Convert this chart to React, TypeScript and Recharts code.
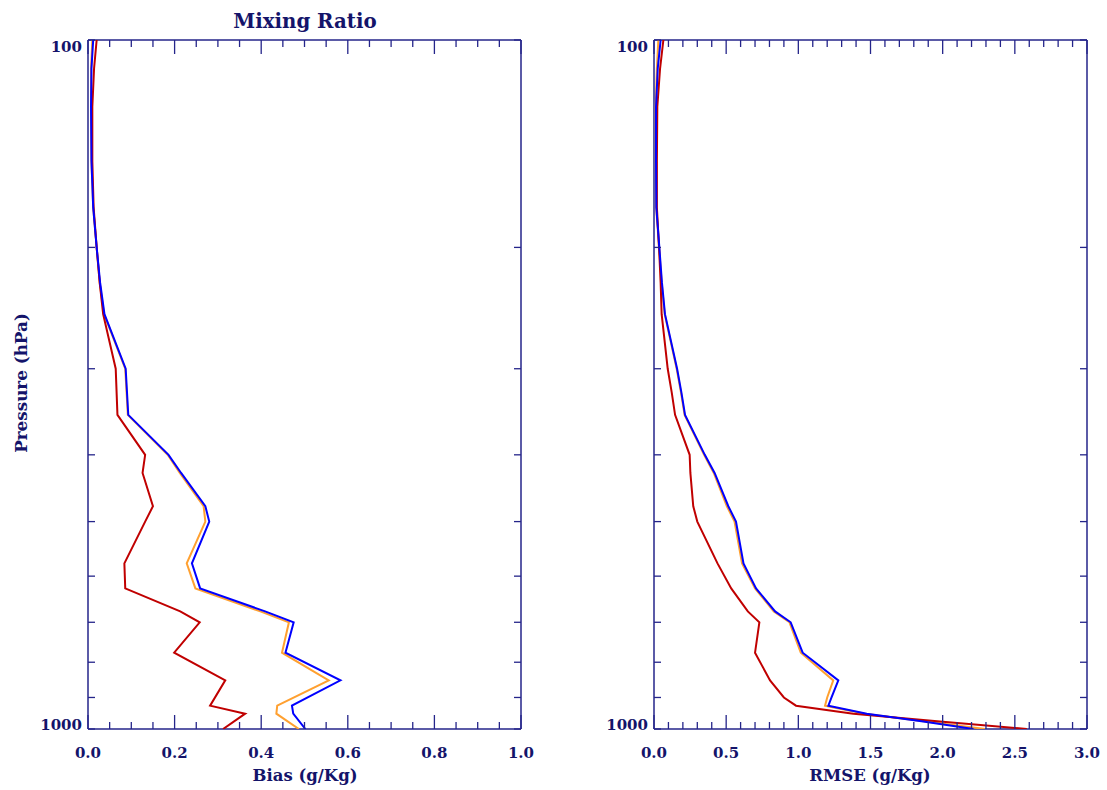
import React from "react";
import { ScatterChart, Scatter, XAxis, YAxis } from "recharts";

// pressure levels (hPa) and profile values
const biasLevels = [100, 110, 125, 150, 175, 200, 225, 250, 300, 350, 400, 425, 475, 500, 575, 625, 675, 700, 775, 850, 925, 950, 1000];
const biasBlue = [0.012, 0.008, 0.007, 0.008, 0.012, 0.02, 0.028, 0.038, 0.087, 0.093, 0.186, 0.215, 0.271, 0.28, 0.24, 0.259, 0.409, 0.475, 0.456, 0.583, 0.471, 0.474, 0.502];
const biasOrange = [0.01, 0.007, 0.007, 0.008, 0.012, 0.02, 0.027, 0.037, 0.086, 0.092, 0.184, 0.212, 0.267, 0.271, 0.228, 0.248, 0.398, 0.464, 0.448, 0.556, 0.437, 0.435, 0.487];
const biasRed = [0.02, 0.014, 0.01, 0.01, 0.013, 0.02, 0.027, 0.035, 0.064, 0.068, 0.132, 0.126, 0.15, 0.132, 0.084, 0.086, 0.213, 0.258, 0.199, 0.317, 0.282, 0.363, 0.312];

const rmseLevels = [100, 110, 125, 150, 175, 200, 225, 250, 300, 325, 350, 400, 425, 475, 500, 575, 625, 675, 700, 775, 850, 900, 925, 950, 975, 1000];
const rmseBlue = [0.046, 0.026, 0.014, 0.014, 0.016, 0.037, 0.055, 0.076, 0.16, 0.19, 0.215, 0.352, 0.42, 0.515, 0.568, 0.62, 0.707, 0.839, 0.947, 1.03, 1.277, 1.23, 1.208, 1.474, 1.866, 2.213];
const rmseOrange = [0.03, 0.02, 0.012, 0.013, 0.015, 0.035, 0.053, 0.074, 0.157, 0.187, 0.212, 0.347, 0.414, 0.505, 0.558, 0.61, 0.7, 0.83, 0.938, 1.017, 1.242, 1.2, 1.185, 1.46, 1.88, 2.294];
const rmseRed = [0.065, 0.042, 0.023, 0.02, 0.02, 0.035, 0.046, 0.053, 0.095, 0.123, 0.146, 0.247, 0.252, 0.272, 0.3, 0.44, 0.535, 0.65, 0.73, 0.7, 0.804, 0.9, 0.984, 1.381, 1.982, 2.583];

const pressureTicks = [100, 200, 300, 400, 500, 600, 700, 800, 900, 1000];
const pressureLabels = [100, 1000];

const AXIS = "#25258a";
const TEXT = "#14146a";
const FONT = "'DejaVu Serif', serif";
const BLUE = "#0000ff";
const ORANGE = "#ffa030";
const RED = "#c00000";

const makeTicks = (max: number, step: number) => {
  const out: number[] = [];
  const n = Math.round(max / step);
  for (let i = 0; i <= n; i++) out.push(Math.round(i * step * 1000) / 1000);
  return out;
};

const isMajor = (v: number, step: number) => Math.abs(v / step - Math.round(v / step)) < 1e-6;

function XTick(props: any) {
  const { x, y, payload, side, majorStep } = props;
  const v = payload.value as number;
  const major = isMajor(v, majorStep);
  const len = major ? 14 : 7;
  const dir = side === "bottom" ? -1 : 1;
  return (
    <g>
      <line x1={x} x2={x} y1={y} y2={y + dir * len} stroke={AXIS} strokeWidth={1.3} />
      {side === "bottom" && major && (
        <text x={x} y={y + 29} textAnchor="middle" fill={TEXT} fontFamily={FONT} fontWeight="bold" fontSize={15}>
          {v.toFixed(1)}
        </text>
      )}
    </g>
  );
}

function YTick(props: any) {
  const { x, y, payload, side } = props;
  const v = payload.value as number;
  const dir = side === "left" ? 1 : -1;
  return (
    <g>
      <line x1={x} x2={x + dir * 7} y1={y} y2={y} stroke={AXIS} strokeWidth={1.3} />
      {side === "left" && pressureLabels.includes(v) && (
        <text x={x - 6} y={y + (v === 100 ? 12 : 1)} textAnchor="end" fill={TEXT} fontFamily={FONT} fontWeight="bold" fontSize={15}>
          {v}
        </text>
      )}
    </g>
  );
}

type PanelProps = {
  levels: number[];
  blue: number[];
  orange: number[];
  red: number[];
  xMax: number;
  minorStep: number;
  majorStep: number;
  width: number;
  plotLeft: number;
  plotRight: number;
};

function Panel({ levels, blue, orange, red, xMax, minorStep, majorStep, width, plotLeft, plotRight }: PanelProps) {
  const xTicks = makeTicks(xMax, minorStep);
  const series = [
    { name: "orange", color: ORANGE, values: orange },
    { name: "red", color: RED, values: red },
    { name: "blue", color: BLUE, values: blue },
  ];
  // plot box: top 40, bottom 729
  return (
    <ScatterChart
      width={width}
      height={790}
      margin={{ top: 30, right: width - plotRight - 10, bottom: 31, left: plotLeft - 80 }}
    >
      <XAxis
        xAxisId="b"
        type="number"
        dataKey="v"
        domain={[0, xMax]}
        allowDataOverflow
        ticks={xTicks}
        interval={0}
        height={30}
        tickSize={0}
        tickMargin={0}
        tickLine={false}
        axisLine={{ stroke: AXIS, strokeWidth: 1.5 }}
        tick={(p: any) => <XTick {...p} side="bottom" majorStep={majorStep} />}
      />
      <XAxis
        xAxisId="t"
        orientation="top"
        type="number"
        dataKey="v"
        domain={[0, xMax]}
        allowDataOverflow
        ticks={xTicks}
        interval={0}
        height={10}
        tickSize={0}
        tickMargin={0}
        tickLine={false}
        axisLine={{ stroke: AXIS, strokeWidth: 1.5 }}
        tick={(p: any) => <XTick {...p} side="top" majorStep={majorStep} />}
      />
      <YAxis
        yAxisId="l"
        type="number"
        dataKey="p"
        scale="log"
        domain={[100, 1000]}
        reversed
        allowDataOverflow
        ticks={pressureTicks}
        interval={0}
        width={80}
        tickSize={0}
        tickMargin={0}
        tickLine={false}
        axisLine={{ stroke: AXIS, strokeWidth: 1.5 }}
        tick={(p: any) => <YTick {...p} side="left" />}
      />
      <YAxis
        yAxisId="r"
        orientation="right"
        type="number"
        dataKey="p"
        scale="log"
        domain={[100, 1000]}
        reversed
        allowDataOverflow
        ticks={pressureTicks}
        interval={0}
        width={10}
        tickSize={0}
        tickMargin={0}
        tickLine={false}
        axisLine={{ stroke: AXIS, strokeWidth: 1.5 }}
        tick={(p: any) => <YTick {...p} side="right" />}
      />
      {series.map((s) => (
        <Scatter
          key={s.name}
          name={s.name}
          xAxisId="b"
          yAxisId="l"
          data={levels.map((p, i) => ({ p, v: s.values[i] }))}
          fill={s.color}
          line={{ stroke: s.color, strokeWidth: 2 }}
          shape={() => <g />}
          isAnimationActive={false}
        />
      ))}
      <Scatter
        name="frame"
        xAxisId="t"
        yAxisId="r"
        data={[]}
        fill="none"
        shape={() => <g />}
        isAnimationActive={false}
      />
    </ScatterChart>
  );
}

const textStyle = { fill: TEXT, fontFamily: FONT, fontWeight: "bold" as const };

export default function App() {
  return (
    <div style={{ position: "absolute", left: 0, top: 0, width: 1107, height: 790, background: "#fff" }}>
      <div style={{ position: "absolute", left: 0, top: 0 }}>
        <Panel
          levels={biasLevels}
          blue={biasBlue}
          orange={biasOrange}
          red={biasRed}
          xMax={1}
          minorStep={0.05}
          majorStep={0.2}
          width={560}
          plotLeft={88}
          plotRight={521}
        />
      </div>
      <div style={{ position: "absolute", left: 560, top: 0 }}>
        <Panel
          levels={rmseLevels}
          blue={rmseBlue}
          orange={rmseOrange}
          red={rmseRed}
          xMax={3}
          minorStep={0.1}
          majorStep={0.5}
          width={547}
          plotLeft={94}
          plotRight={527}
        />
      </div>
      <svg width={1107} height={790} style={{ position: "absolute", left: 0, top: 0, pointerEvents: "none" }}>
        <text x={305} y={28} textAnchor="middle" fontSize={19.8} {...textStyle}>
          Mixing Ratio
        </text>
        <text x={305} y={781} textAnchor="middle" fontSize={16.5} {...textStyle}>
          Bias (g/Kg)
        </text>
        <text x={870} y={781} textAnchor="middle" fontSize={16.5} {...textStyle}>
          RMSE (g/Kg)
        </text>
        <text
          transform="translate(21,383) rotate(-90)"
          textAnchor="middle"
          dominantBaseline="central"
          fontSize={16.8}
          {...textStyle}
        >
          Pressure (hPa)
        </text>
      </svg>
    </div>
  );
}
